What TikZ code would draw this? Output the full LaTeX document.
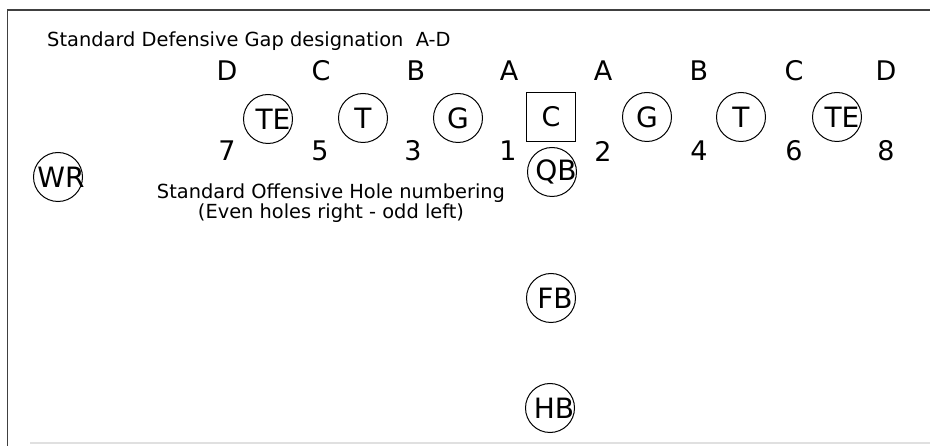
\documentclass[tikz,border=0pt]{standalone}
\usepackage{fontspec}
\setmainfont{DejaVu Sans}
\begin{document}
\begin{tikzpicture}[x=1pt,y=-1pt,
  big/.style={font=\fontsize{27}{30}\selectfont, inner sep=0pt},
  small/.style={font=\fontsize{19.4}{20.5}\selectfont, inner sep=0pt},
  player/.style={circle, draw, line width=1pt, minimum size=49pt, inner sep=0pt},
  pname/.style={font=\fontsize{28}{30}\selectfont, inner sep=0pt},
  frame/.style={line width=1.8pt, draw=black!75}]
\useasboundingbox (0,0) rectangle (930,446);
% frame
\coordinate (tl) at (7.5,10);
\coordinate (tr) at (930,10);
\coordinate (bl) at (7.5,446);
\coordinate (bl2) at (30,443);
\coordinate (br2) at (930,443);
\draw[frame] (bl) -- (tl) -- (tr);
\draw[line width=1.2pt, draw=black!12] (bl2) -- (br2);
% title
\node[small, anchor=west] (title) at (47,41) {Standard Defensive Gap designation\ \ A-D};
% gap letters
\node[big] (gD1) at (227,71) {D};
\node[big] (gC1) at (321,71) {C};
\node[big] (gB1) at (416,71) {B};
\node[big] (gA1) at (509,71) {A};
\node[big] (gA2) at (603,71) {A};
\node[big] (gB2) at (699,71) {B};
\node[big] (gC2) at (794,71) {C};
\node[big] (gD2) at (886,71) {D};
% hole numbers
\node[big] (h7) at (227,151) {7};
\node[big] (h5) at (320,151) {5};
\node[big] (h3) at (413,151) {3};
\node[big] (h1) at (508,151) {1};
\node[big] (h2) at (603,151) {2};
\node[big] (h4) at (699,151) {4};
\node[big] (h6) at (794,151) {6};
\node[big] (h8) at (886,151) {8};
% line
\node[player] (te1) at (268,119) {};
\node[pname, xshift=5pt] (te1t) at (te1) {TE};
\node[player] (t1) at (363,118) {};
\node[pname] (t1t) at (t1) {T};
\node[player] (g1) at (458,118) {};
\node[pname] (g1t) at (g1) {G};
\node[draw, line width=1pt, minimum size=49pt, inner sep=0pt, font=\fontsize{27}{28}\selectfont] (c) at (551,117) {C};
\node[player] (g2) at (647,117) {};
\node[pname] (g2t) at (g2) {G};
\node[player] (t2) at (741,117) {};
\node[pname] (t2t) at (t2) {T};
\node[player] (te2) at (837,117) {};
\node[pname, xshift=5pt] (te2t) at (te2) {TE};
% backs
\node[player] (qb) at (552,172) {};
\node[pname, xshift=4pt] (qbt) at (qb) {QB};
\node[player] (wr) at (58,177) {};
\node[pname, xshift=3pt] (wrt) at (wr) {WR};
\node[player] (fb) at (551,298) {};
\node[pname, xshift=4pt] (fbt) at (fb) {FB};
\node[player] (hb) at (550,408) {};
\node[pname, xshift=4pt] (hbt) at (hb) {HB};
% offensive note
\node[small, align=center] (note) at (331,203) {Standard Offensive Hole numbering\\(Even holes right - odd left)};
\end{tikzpicture}
\end{document}
